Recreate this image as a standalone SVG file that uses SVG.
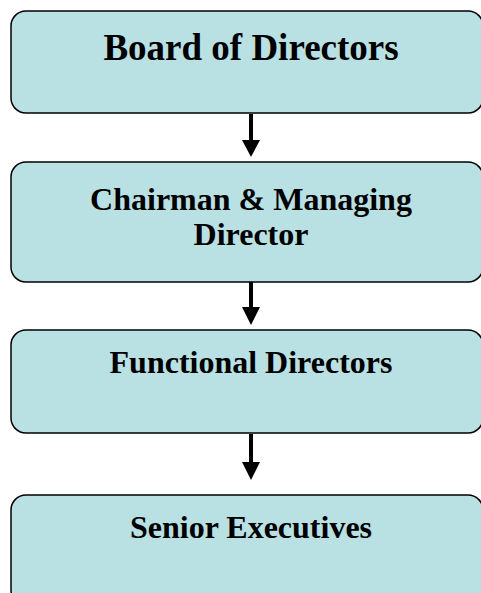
<svg xmlns="http://www.w3.org/2000/svg" width="481" height="593" viewBox="0 0 481 593">
<style>
.box{fill:#b9e0e3;stroke:#000;stroke-width:1.5}
.t{font-family:"Liberation Serif","Times New Roman",serif;font-weight:bold;fill:#000;text-anchor:middle}
.sh{stroke:#000;stroke-width:4;fill:none}
.hd{fill:#000}
</style>
<rect width="481" height="593" fill="#fff"/>
<g id="connectors">
<line class="sh" x1="251" y1="114" x2="251" y2="141"/><polygon class="hd" points="242,140 260,140 251,157"/>
<line class="sh" x1="251" y1="282" x2="251" y2="308"/><polygon class="hd" points="242,307 260,307 251,325"/>
<line class="sh" x1="251" y1="434" x2="251" y2="463"/><polygon class="hd" points="242,462 260,462 251,480"/>
</g>
<g id="board"><rect class="box" x="11" y="11" width="472" height="102" rx="15"/><text class="t" x="251" y="60" font-size="37">Board of Directors</text></g>
<g id="cmd"><rect class="box" x="11" y="162" width="472" height="120" rx="15"/><text class="t" x="251" y="210" font-size="32">Chairman &amp; Managing</text><text class="t" x="251" y="245" font-size="32">Director</text></g>
<g id="functional"><rect class="box" x="11" y="330" width="472" height="103" rx="15"/><text class="t" x="251" y="373" font-size="32">Functional Directors</text></g>
<g id="senior"><rect class="box" x="11" y="495" width="472" height="110" rx="15"/><text class="t" x="251" y="538" font-size="32">Senior Executives</text></g>
</svg>
